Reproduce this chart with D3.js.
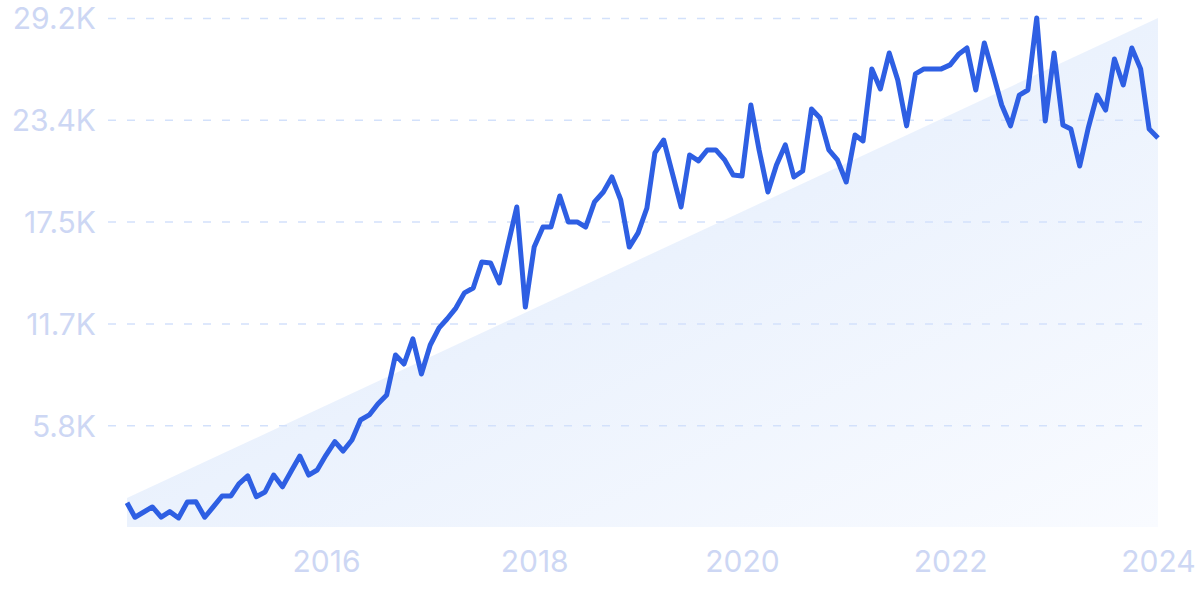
<!DOCTYPE html>
<html>
<head>
<meta charset="utf-8">
<script src="https://cdn.jsdelivr.net/npm/d3@7"></script>
<style>
  html, body { margin: 0; padding: 0; background: #ffffff; }
  svg { display: block; }
</style>
</head>
<body>
<svg id="chart" width="1200" height="599"></svg>
<script>
// ---- data ----
const startMonth = "2014-02";
const values = [
  1390, 560, 860, 1150, 570, 880, 520, 1430, 1450, 560, 1150, 1780,
  1780, 2470, 2930, 1740, 2010, 2980, 2310, 3210, 4070, 2980, 3270, 4130,
  4900, 4360, 4990, 6140, 6430, 7060, 7570, 9870, 9350, 10790, 8780, 10440,
  11420, 11930, 12560, 13430, 13710, 15200, 15150, 14000, 16180, 18360, 12620, 16060,
  17210, 17210, 18990, 17500, 17500, 17210, 18650, 19220, 20080, 18760, 16060, 16870,
  18300, 21460, 22200, 20310, 18360, 21340, 21000, 21630, 21630, 21060, 20190, 20140,
  24210, 21630, 19220, 20770, 21920, 20080, 20420, 23980, 23460, 21630, 21060, 19790,
  22490, 22150, 26280, 25130, 27190, 25640, 23010, 25990, 26280, 26280, 26280, 26510,
  27140, 27480, 25070, 27770, 25990, 24210, 23010, 24780, 25070, 29200, 23290, 27190,
  23060, 22830, 20710, 22890, 24780, 23920, 26850, 25360, 27480, 26280, 22830, 22320
];
const trendValues = [1660, 29200];           // shaded band: first and last month
const yTickValues = [5840, 11680, 17520, 23360, 29200];
const yTickLabels = ["5.8K", "11.7K", "17.5K", "23.4K", "29.2K"];
const xTickYears = [2016, 2018, 2020, 2022, 2024];

// ---- build ----
const parseMonth = d3.timeParse("%Y-%m");
const t0 = parseMonth(startMonth);
const data = values.map((v, i) => ({ date: d3.timeMonth.offset(t0, i), value: v }));
const trend = [
  { date: data[0].date, value: trendValues[0] },
  { date: data[data.length - 1].date, value: trendValues[1] }
];

const svg = d3.select("#chart");
const x = d3.scaleTime()
  .domain([data[0].date, data[data.length - 1].date])
  .range([127, 1158]);
const y = d3.scaleLinear().domain([0, 29200]).range([527, 18]);

const defs = svg.append("defs");
const grad = defs.append("linearGradient")
  .attr("id", "fillGrad")
  .attr("x1", "0%").attr("y1", "0%").attr("x2", "100%").attr("y2", "100%");
grad.append("stop").attr("offset", "0%").attr("stop-color", "#dde9fb");
grad.append("stop").attr("offset", "100%").attr("stop-color", "#f9fbff");

// shaded band
const area = d3.area()
  .x(d => x(d.date))
  .y0(y(0))
  .y1(d => y(d.value));
svg.append("path")
  .datum(trend)
  .attr("d", area)
  .attr("fill", "url(#fillGrad)");

// gridlines
const gridAxis = d3.axisLeft(y)
  .tickValues(yTickValues)
  .tickSize(-(1148 - 108))
  .tickFormat("");
const grid = svg.append("g")
  .attr("transform", "translate(108,0)")
  .call(gridAxis);
grid.select(".domain").remove();
grid.selectAll(".tick line")
  .attr("stroke", "#d3e1fb")
  .attr("stroke-width", 1.5)
  .attr("stroke-dasharray", "8,11");

// y labels
const yAxis = d3.axisLeft(y)
  .tickValues(yTickValues)
  .tickSize(0)
  .tickPadding(0)
  .tickFormat((d, i) => yTickLabels[i]);
const ya = svg.append("g")
  .attr("transform", "translate(96,0)")
  .call(yAxis);
ya.select(".domain").remove();
ya.selectAll(".tick text")
  .attr("fill", "#cdd7f4")
  .attr("font-family", "Inter, 'Open Sans', sans-serif")
  .attr("font-size", 30)
  .attr("dy", "0.36em");

// x labels
const xAxis = d3.axisBottom(x)
  .tickValues(xTickYears.map(yr => new Date(yr, 0, 1)))
  .tickSize(0)
  .tickPadding(0)
  .tickFormat(d3.timeFormat("%Y"));
const xa = svg.append("g")
  .attr("transform", "translate(0,551)")
  .call(xAxis);
xa.select(".domain").remove();
xa.selectAll(".tick text")
  .attr("fill", "#cdd7f4")
  .attr("font-family", "Inter, 'Open Sans', sans-serif")
  .attr("font-size", 30)
  .attr("dy", "0.71em");

// line
const line = d3.line()
  .x(d => x(d.date))
  .y(d => y(d.value));
svg.append("path")
  .datum(data)
  .attr("d", line)
  .attr("fill", "none")
  .attr("stroke", "#2e5fe3")
  .attr("stroke-width", 5)
  .attr("stroke-linejoin", "round")
  .attr("stroke-linecap", "butt");
</script>
</body>
</html>
